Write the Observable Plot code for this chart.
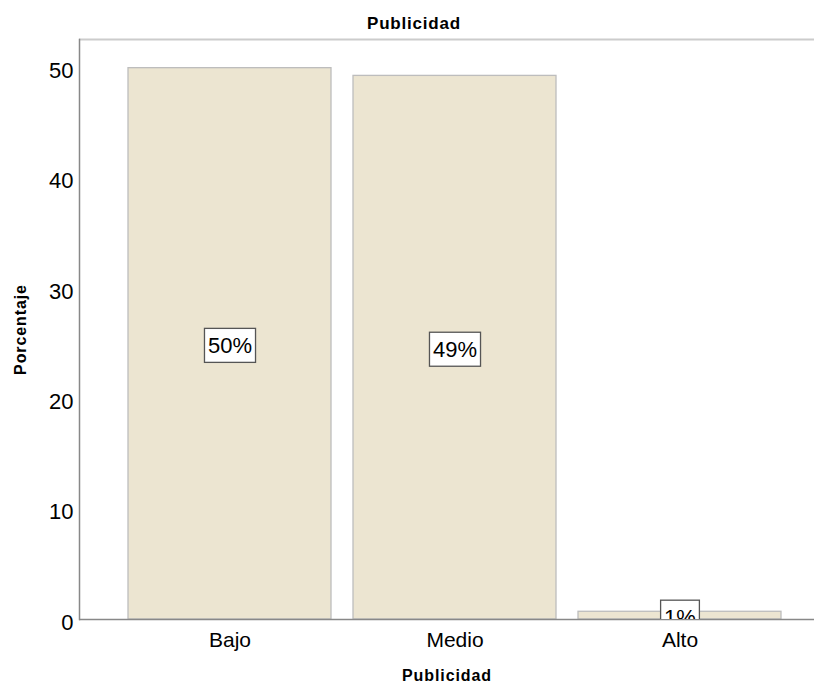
<!DOCTYPE html>
<html>
<head>
<meta charset="utf-8">
<script src="https://cdn.jsdelivr.net/npm/d3@7"></script>
<script src="https://cdn.jsdelivr.net/npm/@observablehq/plot@0.6"></script>
<style>
  body { margin: 0; background: #fff; font-family: "Liberation Sans", Arial, sans-serif; }
  #title { position: relative; height: 32px; width: 814px; }
  #title span { position: absolute; left: 0; width: 828px; top: 14.6px; text-align: center;
    font: bold 17px/17px "Liberation Sans", Arial, sans-serif; letter-spacing: 0.8px; color: #000; }
  .axislab { letter-spacing: 0.9px; }
</style>
</head>
<body>
<div id="title"><span>Publicidad</span></div>
<div id="chart"></div>
<script>
const chartTitle = "Publicidad";
const xLabel = "Publicidad";
const yLabel = "Porcentaje";
const categories = ["Bajo", "Medio", "Alto"];
const percentages = [50.0, 49.3, 0.7];
const yTicks = [0, 10, 20, 30, 40, 50];
const yMax = 52.6;

document.querySelector("#title span").textContent = chartTitle;

const data = categories.map((c, i) => ({category: c, pct: percentages[i]}));

const svg = Plot.plot({
  width: 814,
  height: 654,
  marginTop: 7,
  marginBottom: 67,
  marginLeft: 79,
  marginRight: 0,
  style: {fontFamily: '"Liberation Sans", Arial, sans-serif', color: "#000", background: "#fff"},
  x: {domain: categories, paddingInner: 0.1, paddingOuter: 0.1833, align: 0.594},
  y: {domain: [0, yMax]},
  marks: [
    Plot.barY(data, {x: "category", y: "pct", fill: "#ECE5D1", stroke: "#BDBDBD", strokeWidth: 1.3}),
    Plot.ruleY([yMax], {stroke: "#CCCCCC", strokeWidth: 2}),
    Plot.ruleY([0], {stroke: "#888888", strokeWidth: 1.5}),
    Plot.frame({anchor: "left", stroke: "#888888", strokeWidth: 1.5}),
    Plot.axisY(yTicks, {tickSize: 0, tickPadding: 6, fontSize: 22, dy: 3, label: null, fill: "#000"}),
    Plot.axisX({tickSize: 0, tickPadding: 13, fontSize: 21, label: null, fill: "#000"}),
    Plot.text(data, {
      x: "category", y: d => d.pct / 2,
      text: d => `${Math.round(d.pct)}%`,
      fontSize: 22, dy: 2, fill: "#000", clip: true
    }),
    Plot.text([xLabel], {text: d => d, frameAnchor: "bottom", dy: 61, fontSize: 16, fontWeight: "bold", fill: "#000", className: "axislab"}),
    Plot.text([yLabel], {text: d => d, frameAnchor: "left", textAnchor: "middle", dx: -59, rotate: -90, fontSize: 16, fontWeight: "bold", fill: "#000", className: "axislab"})
  ]
});
document.getElementById("chart").appendChild(svg);

// letter spacing for axis titles (fallback if className unsupported)
svg.querySelectorAll("text").forEach(t => {
  if (t.textContent === xLabel || t.textContent === yLabel) t.style.letterSpacing = "0.9px";
});

// white boxes behind bar labels
const ns = "http://www.w3.org/2000/svg";
const labelTexts = new Set(percentages.map(p => `${Math.round(p)}%`));
svg.querySelectorAll("text").forEach(t => {
  if (!labelTexts.has(t.textContent)) return;
  const b = t.getBBox();
  const r = document.createElementNS(ns, "rect");
  r.setAttribute("x", b.x - 3.5);
  r.setAttribute("y", b.y - 4.5);
  r.setAttribute("width", b.width + 7);
  r.setAttribute("height", b.height + 9);
  r.setAttribute("fill", "#fff");
  r.setAttribute("stroke", "#555");
  r.setAttribute("stroke-width", 1.3);
  const tr = t.getAttribute("transform");
  if (tr) r.setAttribute("transform", tr);
  t.parentNode.insertBefore(r, t);
});
</script>
</body>
</html>
